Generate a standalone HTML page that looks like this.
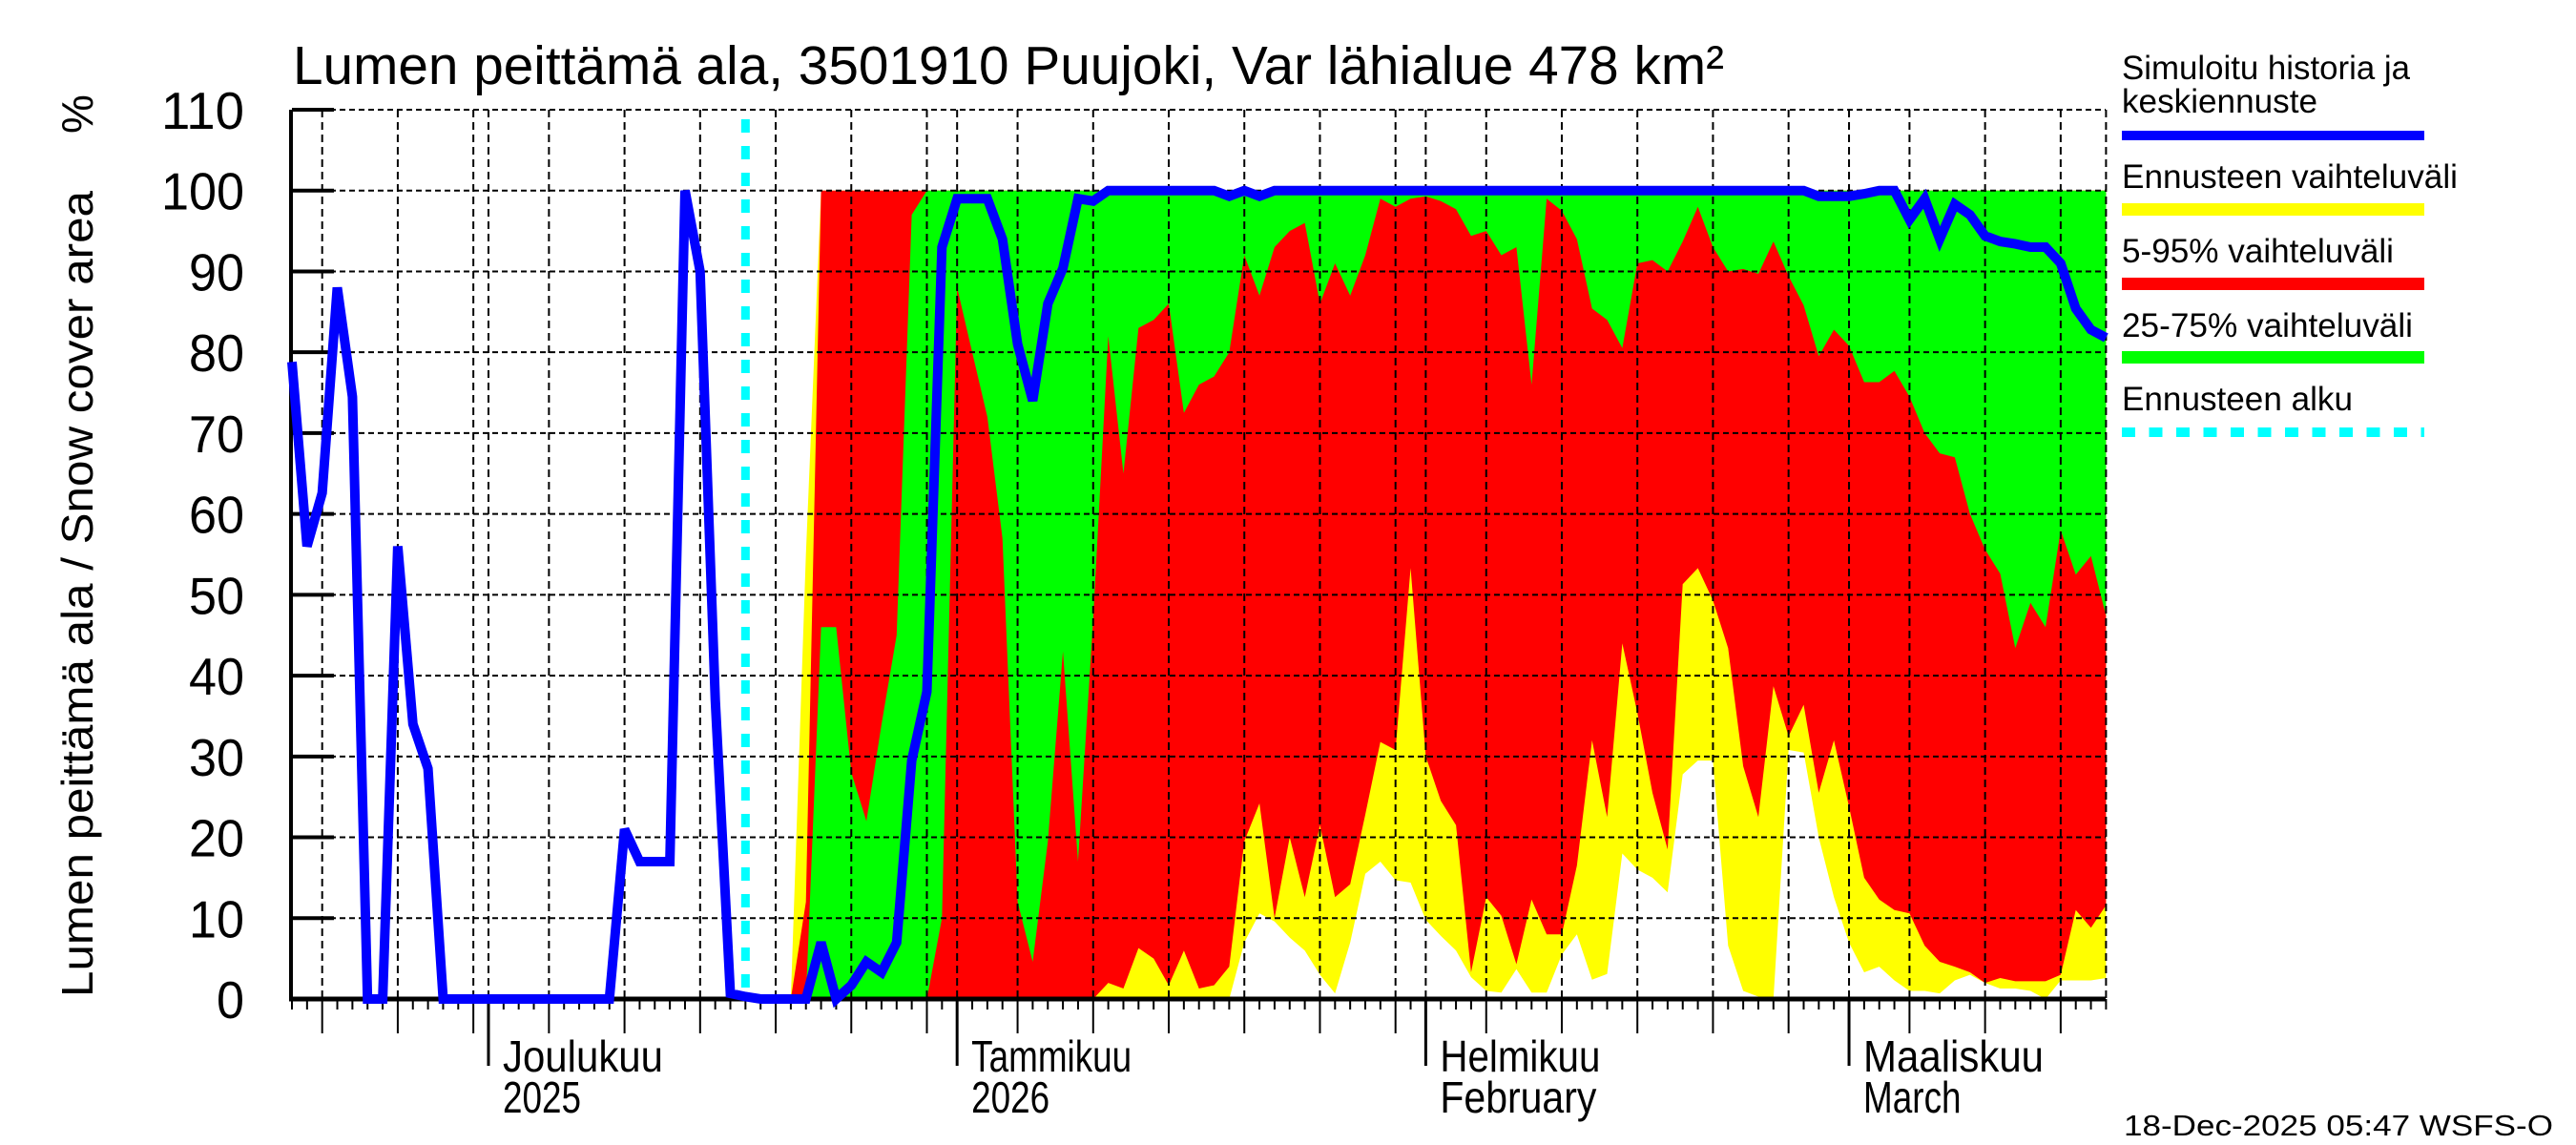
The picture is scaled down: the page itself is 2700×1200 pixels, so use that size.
<!DOCTYPE html>
<html><head><meta charset="utf-8"><title>Lumen peittämä ala</title>
<style>html,body{margin:0;padding:0;background:#fff}svg{display:block}text{font-family:"Liberation Sans",sans-serif;fill:#000}</style>
</head><body>
<svg id="chart" xmlns="http://www.w3.org/2000/svg" width="2700" height="1200" viewBox="0 0 2700 1200">
<rect x="0" y="0" width="2700" height="1200" fill="#fff"/>
<g id="bands"></g>
<g id="grid"></g>
<g id="axes"></g>
<g id="lines"></g>
<text x="307" y="88" font-size="57" textLength="1500" lengthAdjust="spacingAndGlyphs">Lumen peittämä ala, 3501910 Puujoki, Var lähialue 478 km²</text>
<text transform="translate(97,1045) rotate(-90)" font-size="46" textLength="845" lengthAdjust="spacingAndGlyphs">Lumen peittämä ala / Snow cover area</text>
<text transform="translate(97,140) rotate(-90)" font-size="46">%</text>
<g>
<text x="2224" y="83" font-size="35" textLength="302" lengthAdjust="spacingAndGlyphs">Simuloitu historia ja</text>
<text x="2224" y="118" font-size="35" textLength="205" lengthAdjust="spacingAndGlyphs">keskiennuste</text>
<rect x="2224" y="137" width="317" height="10" fill="#0000ff"/>
<text x="2224" y="197" font-size="35" textLength="352" lengthAdjust="spacingAndGlyphs">Ennusteen vaihteluväli</text>
<rect x="2224" y="213" width="317" height="13" fill="#ffff00"/>
<text x="2224" y="275" font-size="35" textLength="285" lengthAdjust="spacingAndGlyphs">5-95% vaihteluväli</text>
<rect x="2224" y="291" width="317" height="13" fill="#ff0000"/>
<text x="2224" y="353" font-size="35" textLength="305" lengthAdjust="spacingAndGlyphs">25-75% vaihteluväli</text>
<rect x="2224" y="368" width="317" height="13" fill="#00ff00"/>
<text x="2224" y="430" font-size="35" textLength="242" lengthAdjust="spacingAndGlyphs">Ennusteen alku</text>
<line x1="2224" y1="453" x2="2541" y2="453" stroke="#00ffff" stroke-width="10" stroke-dasharray="14 14.5"/>
</g>
<text x="2226" y="1190" font-size="31" textLength="450" lengthAdjust="spacingAndGlyphs">18-Dec-2025 05:47 WSFS-O</text>
</svg>
<script>
// day 0 = 18 Nov 2025, last day 120 = 18 Mar 2026
const blueValues = [78.8,56,62.6,88,74.5,0,0,56,34,28.5,0,0,0,0,0,0,0,0,0,0,0,0,21,17,17,17,100,90,37,0.7,0.3,0,0,0,0,7,0,1.7,4.6,3.3,7,29.5,38,93,99,99,99,94,81,74,86,90.4,99,98.7,100,100,100,100,100,100,100,100,99.3,100,99.3,100,100,100,100,100,100,100,100,100,100,100,100,100,100,100,100,100,100,100,100,100,100,100,100,100,100,100,100,100,100,100,100,100,100,100,100,99.3,99.3,99.3,99.6,100,100,96.4,99,94,98.3,97,94.4,93.7,93.4,93,93,91,85.4,82.8,81.8];
const bandStartDay = 33;
const bandMax = [0,55,100,100,100,100,100,100,100,100,100,100,100,100,100,100,100,100,100,100,100,100,100,100,100,100,100,100,100,100,100,100,100,100,100,100,100,100,100,100,100,100,100,100,100,100,100,100,100,100,100,100,100,100,100,100,100,100,100,100,100,100,100,100,100,100,100,100,100,100,100,100,100,100,100,100,100,100,100,100,100,100,100,100,100,100,100,100];
const bandP95 = [0,12,100,100,100,100,100,100,100,100,100,100,100,100,100,100,100,100,100,100,100,100,100,100,100,100,100,100,100,100,100,100,100,100,100,100,100,100,100,100,100,100,100,100,100,100,100,100,100,100,100,100,100,100,100,100,100,100,100,100,100,100,100,100,100,100,100,100,100,100,100,100,100,100,100,100,100,100,100,100,100,100,100,100,100,100,100,100];
const bandP75 = [0,0,46,46,28,22,34,45,97,100,100,100,100,100,100,100,100,100,100,100,100,100,100,100,100,100,100,100,100,100,100,100,100,100,100,100,100,100,100,100,100,100,100,100,100,100,100,100,100,100,100,100,100,100,100,100,100,100,100,100,100,100,100,100,100,100,100,100,100,100,100,100,100,100,100,100,100,100,100,100,100,100,100,100,100,100,100,100];
const bandP25 = [0,0,0,0,0,0,0,0,0,0,10,88,80,72,57,12,4.6,19.5,43,17,47,82,65,83,84,86,72.5,76,77,80,92,87,93,95,96,86,91,87,92,99,98,99,99.3,98.7,97.7,94.4,95,92,93,76,99,97.5,94,85.4,84,80.5,91,91.4,90,93.7,98,93,90,90.3,89.7,93.7,89.4,85.8,79.5,82.8,80.8,76.3,76.3,77.7,74.5,70,67.5,67,60,55.6,52.6,43.4,49,46,58,52.5,54.8,47.4];
const bandP5 = [0,0,0,0,0,0,0,0,0,0,0,0,0,0,0,0,0,0,0,0,0,2,1.3,6.3,5,1.7,6,1.3,1.7,4,19.5,24.2,10,20,12.6,21.5,12.6,14.2,22.8,31.8,30.8,53.3,30,24.5,21.5,3.3,12.6,10.3,4.3,12.3,8,8,16.5,32,22.5,44,35.4,25.5,18.5,51.3,53.3,49.3,43.4,28.8,22.5,38.7,32.5,36.4,25.5,32,23.8,15,12.3,11,10.6,6.6,4.6,4,3.3,2,2.6,2.2,2.2,2.2,3,11,8.8,11.6];
const bandMin = [0,0,0,0,0,0,0,0,0,0,0,0,0,0,0,0,0,0,0,0,0,0,0,0,0,0,0,0,0,0,7,10.6,9.6,7.6,6,3,0.7,7,15.5,17,14.7,14.4,9.8,7.8,6,2.7,1,0.8,3.7,0.8,0.8,5.5,8,2.4,3.1,18,16,15,13.2,27.8,29.5,29.5,6.6,1,0.3,0,30.8,30.5,20,12.6,7,3.3,4,2.3,1,1,0.7,2.3,3,2,1.3,1.3,1,0,2.3,2.3,2.3,2.6];
const forecastStartDay = 30;
const yTicks = [0,10,20,30,40,50,60,70,80,90,100,110];
const monthStarts = [13,44,75,103];
const monthNames = ["Joulukuu","Tammikuu","Helmikuu","Maaliskuu"];
const monthSub = ["2025","2026","February","March"];
const gridDays = [2,7,12,13,17,22,27,32,37,42,44,48,53,58,63,68,73,75,79,84,89,94,99,103,107,112,117];

const X0=306, DX=15.845, Y0=1047, YTOP=115, YMAX=110, XR=2207;
const NS="http://www.w3.org/2000/svg";
function xs(d){return X0+d*DX;}
function ys(v){return Y0-(v/YMAX)*(Y0-YTOP);}
function mk(tag,attrs,parent){const e=document.createElementNS(NS,tag);for(const k in attrs)e.setAttribute(k,attrs[k]);parent.appendChild(e);return e;}
const bands=document.getElementById('bands'),grid=document.getElementById('grid'),axes=document.getElementById('axes'),lines=document.getElementById('lines');

function band(upper,lower,color,name){
  const pts=[];
  for(let i=0;i<upper.length;i++)pts.push(xs(bandStartDay+i).toFixed(1)+','+ys(upper[i]).toFixed(1));
  for(let i=lower.length-1;i>=0;i--)pts.push(xs(bandStartDay+i).toFixed(1)+','+ys(lower[i]).toFixed(1));
  const p=mk('polygon',{points:pts.join(' '),fill:color},bands);
  
  
}
band(bandMax,bandMin,'#ffff00','band-min-max');
band(bandP95,bandP5,'#ff0000','band-5-95');
band(bandP75,bandP25,'#00ff00','band-25-75');

yTicks.forEach(v=>{
  const l=mk('line',{x1:X0,x2:XR,y1:ys(v),y2:ys(v),stroke:'#000','stroke-width':2,'stroke-dasharray':'6 4'},grid);
  
  
});
gridDays.concat([120]).forEach(d=>{
  const l=mk('line',{x1:xs(d),x2:xs(d),y1:YTOP,y2:Y0,stroke:'#000','stroke-width':2,'stroke-dasharray':'8 5'},grid);
  
  
});

const ya=mk('line',{x1:X0-1,x2:X0-1,y1:YTOP,y2:Y0+2,stroke:'#000','stroke-width':4},axes);


const xa=mk('line',{x1:X0-3,x2:XR,y1:Y0,y2:Y0,stroke:'#000','stroke-width':5},axes);


yTicks.forEach(v=>{
  const t=mk('line',{x1:X0,x2:X0+44,y1:ys(v),y2:ys(v),stroke:'#000','stroke-width':4},axes);
  
  
  const tx=mk('text',{x:256,y:ys(v)+20,'font-size':55,'text-anchor':'end',textLength:String(v).length*29,lengthAdjust:'spacingAndGlyphs'},axes);
  tx.textContent=v;
  
  
});
for(let d=0;d<=120;d++){
  let len=11;
  if(gridDays.indexOf(d)>=0)len=36;
  if(monthStarts.indexOf(d)>=0)len=70;
  const t=mk('line',{x1:xs(d),x2:xs(d),y1:Y0,y2:Y0+len,stroke:'#000','stroke-width':monthStarts.indexOf(d)>=0?3:2},axes);
  
  
}
monthStarts.forEach((d,i)=>{
  const a=mk('text',{x:xs(d)+15,y:1123,'font-size':46,textLength:monthNames[i].length*21,lengthAdjust:'spacingAndGlyphs'},axes);
  a.textContent=monthNames[i];
  
  
  const b=mk('text',{x:xs(d)+15,y:1166,'font-size':46,textLength:monthSub[i].length*20.5,lengthAdjust:'spacingAndGlyphs'},axes);
  b.textContent=monthSub[i];
  
  
});

const fs=mk('line',{x1:xs(forecastStartDay),x2:xs(forecastStartDay),y1:125,y2:Y0,stroke:'#00ffff','stroke-width':9,'stroke-dasharray':'14 14'},lines);



const bp=blueValues.map((v,i)=>xs(i).toFixed(1)+','+ys(v).toFixed(1)).join(' ');
const bl=mk('polyline',{points:bp,fill:'none',stroke:'#0000ff','stroke-width':10,'stroke-linejoin':'miter','stroke-miterlimit':3},lines);


</script>
</body></html>
